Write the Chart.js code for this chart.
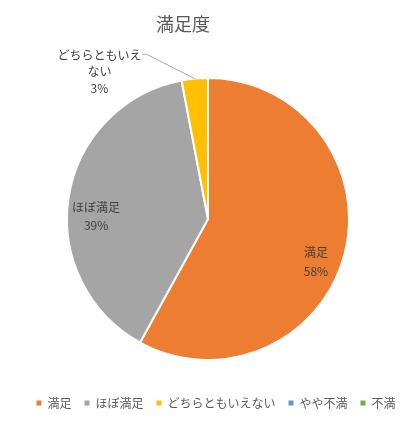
<!DOCTYPE html>
<html><head><meta charset="utf-8">
<script src="https://cdn.jsdelivr.net/npm/chart.js@4/dist/chart.umd.min.js"></script>
<style>html,body{margin:0;padding:0;background:#fff}</style>
</head><body>
<canvas id="c" width="411" height="427"></canvas>
<script>
const chartTitle = '満足度';
const categories = ['満足', 'ほぼ満足', 'どちらともいえない', 'やや不満', '不満'];
const values = [58, 39, 3, 0, 0];
const colors = ['#ED7D31', '#A5A5A5', '#FFC000', '#5B9BD5', '#70AD47'];

const FONT = '"Noto Sans CJK JP", "Noto Sans", sans-serif';

// label placement style: angle delta (deg) from slice middle, distance in radius units, line height, outside?
const labelPlace = [
  {da: 7.3, rf: 0.824, lh: 18.5, outside: false},
  {da: -7.5, rf: 0.794, lh: 18, outside: false},
  {da: -31, rf: 1.298, lh: 16.5, outside: true}
];

function wrapText(t, maxChars) {
  const out = [];
  for (let i = 0; i < t.length; i += maxChars) out.push(t.slice(i, i + maxChars));
  return out;
}

const piePlugin = {
  id: 'pieExtras',
  afterLayout(chart) {
    chart.chartArea.left -= 8;
    chart.chartArea.right -= 8;
  },
  afterDraw(chart) {
    const ctx = chart.ctx;
    ctx.save();
    // title
    ctx.font = '18px ' + FONT;
    ctx.fillStyle = '#595959';
    ctx.textAlign = 'center';
    ctx.textBaseline = 'middle';
    ctx.fillText(chartTitle, 183, 24);

    const meta = chart.getDatasetMeta(0);
    const total = values.reduce((a, b) => a + b, 0);
    ctx.font = '12px ' + FONT;
    ctx.fillStyle = '#404040';
    meta.data.forEach((arc, i) => {
      if (!values[i] || !labelPlace[i]) return;
      const p = labelPlace[i];
      const {x, y, startAngle, endAngle, outerRadius} = arc.getProps(['x', 'y', 'startAngle', 'endAngle', 'outerRadius'], true);
      const mid = (startAngle + endAngle) / 2;
      const a = mid + p.da * Math.PI / 180;
      const cx = x + Math.cos(a) * outerRadius * p.rf;
      const cy = y + Math.sin(a) * outerRadius * p.rf;
      const lines = wrapText(categories[i], 7);
      lines.push(Math.round(values[i] / total * 100) + '%');
      const y0 = cy - (lines.length - 1) * p.lh / 2;
      lines.forEach((l, k) => ctx.fillText(l, cx, y0 + k * p.lh));
      if (p.outside) {
        const w = ctx.measureText(lines[0]).width;
        const sx = cx + w / 2 + 1;
        const ex = x + Math.cos(mid) * outerRadius;
        const ey = y + Math.sin(mid) * outerRadius;
        ctx.strokeStyle = '#A6A6A6';
        ctx.lineWidth = 1;
        ctx.beginPath();
        ctx.moveTo(sx, y0 - 1);
        ctx.lineTo(sx + 4, y0 - 1);
        ctx.lineTo(ex, ey);
        ctx.stroke();
      }
    });
    ctx.restore();
  }
};

new Chart(document.getElementById('c'), {
  type: 'pie',
  data: {
    labels: categories,
    datasets: [{
      data: values,
      backgroundColor: colors,
      borderColor: '#FFFFFF',
      borderWidth: 2,
      radius: 141
    }]
  },
  options: {
    responsive: false,
    animation: false,
    layout: {padding: {left: 21, right: 0, top: 54, bottom: 8}},
    plugins: {
      title: {display: false},
      tooltip: {enabled: false},
      legend: {
        position: 'bottom',
        labels: {
          boxWidth: 5,
          boxHeight: 5,
          padding: 13,
          color: '#595959',
          font: {family: FONT, size: 12},
          generateLabels: (chart) => categories.map((t, i) => ({
            text: t, fillStyle: colors[i], strokeStyle: colors[i], lineWidth: 0,
            fontColor: '#595959', hidden: false, index: i
          }))
        }
      }
    }
  },
  plugins: [piePlugin]
});
</script>
</body></html>
